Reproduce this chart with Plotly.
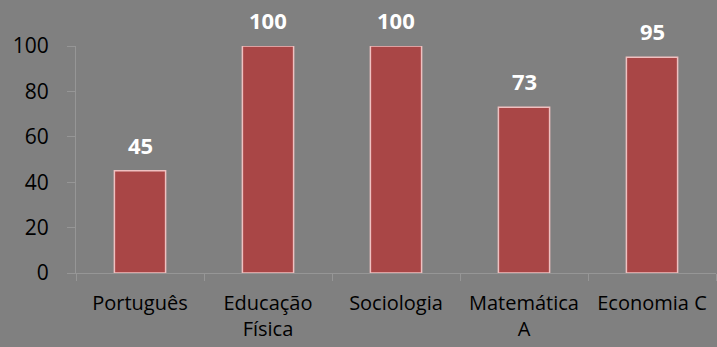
import plotly.graph_objects as go

subjects = ["Português", "Educação<br>Física", "Sociologia", "Matemática<br>A", "Economia C"]
scores = [45, 100, 100, 73, 95]
y_ticks = [0, 20, 40, 60, 80, 100]

BG = "#808080"
BAR = "#a94646"
EDGE = "#efc0c0"
AXIS = "#969696"
FONT = "Open Sans"

fig = go.Figure(
    go.Bar(
        x=subjects,
        y=scores,
        width=0.4,
        marker=dict(color=BAR, line=dict(color=EDGE, width=1.5)),
        hoverinfo="skip",
    )
)

# value labels above each bar
for s, v in zip(subjects, scores):
    fig.add_annotation(
        x=s, y=v, text=f"<b>{v}</b>", showarrow=False,
        yanchor="bottom", yshift=9,
        font=dict(family=FONT, size=22, color="white"),
    )

fig.update_layout(
    width=717, height=347,
    margin=dict(l=76, r=1, t=46, b=74),
    paper_bgcolor=BG, plot_bgcolor=BG,
    showlegend=False,
    font=dict(family=FONT, size=21, color="black"),
)
fig.update_xaxes(
    type="category", tickson="boundaries",
    showline=True, linecolor=AXIS, linewidth=1,
    ticks="outside", ticklen=7, tickcolor=AXIS,
    tickfont=dict(family=FONT, size=20, color="black"),
    ticklabelstandoff=12,
    showgrid=False, tickangle=0,
)
fig.update_yaxes(
    range=[0, 100], tickvals=y_ticks,
    showline=True, linecolor=AXIS, linewidth=1,
    ticks="outside", ticklen=8, tickcolor=AXIS,
    tickfont=dict(family=FONT, size=21, color="black"),
    ticklabelstandoff=14,
    showgrid=False, zeroline=False,
)

fig.write_html("out.html")
